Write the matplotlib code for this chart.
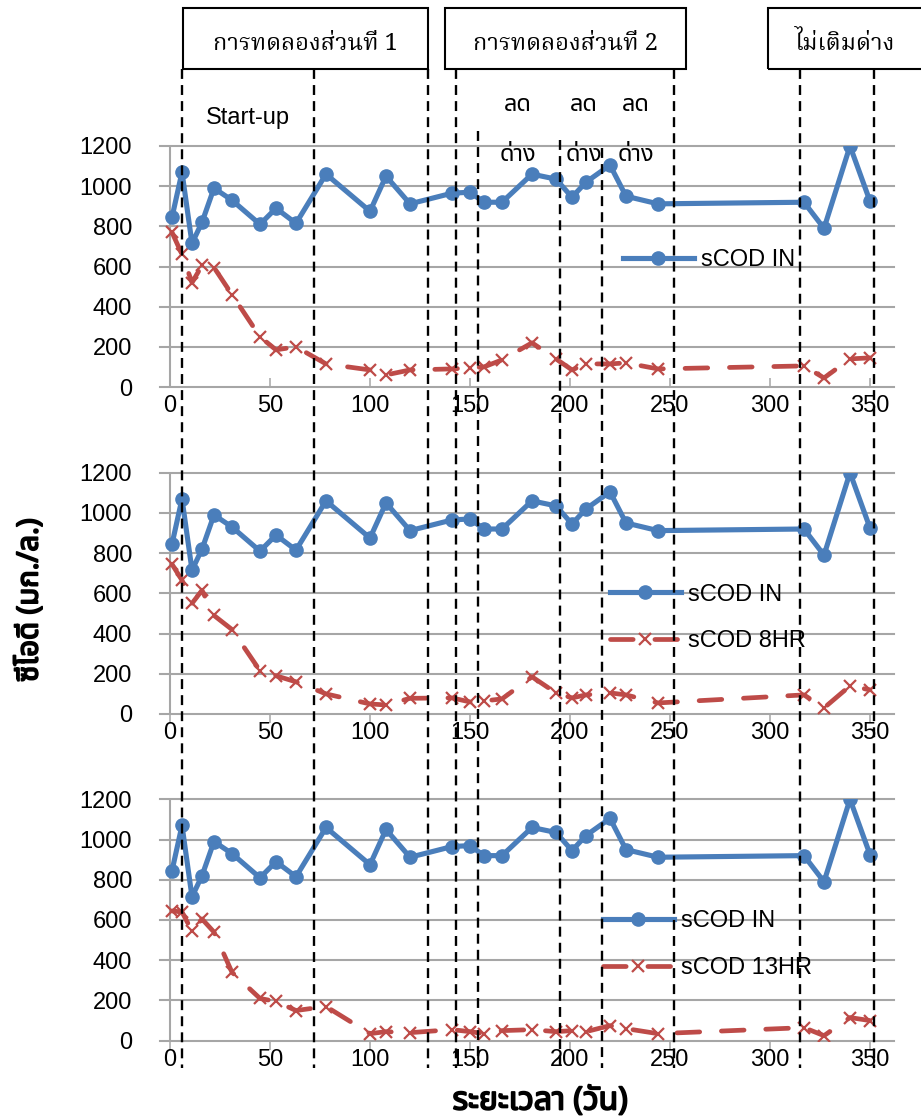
import matplotlib
matplotlib.use('Agg')
from matplotlib import pyplot as plt
from matplotlib import font_manager
from matplotlib import patheffects
from matplotlib.ft2font import FT2Font
from matplotlib.lines import Line2D
from matplotlib.patches import Rectangle
from matplotlib.transforms import blended_transform_factory

# sampling days and soluble COD (mg/L) for influent and the three effluent series
days = [1, 6, 11, 16, 22, 31, 45, 53, 63, 78, 100, 108, 120, 141, 150, 157, 166, 181,
        193, 201, 208, 220, 228, 244, 317, 327, 340, 350]
scod_in = [845, 1070, 715, 820, 990, 930, 810, 890, 815, 1060, 875, 1050, 912, 965, 970,
           920, 920, 1060, 1035, 945, 1020, 1105, 950, 912, 920, 790, 1200, 925]
scod_out_a = [770, 660, 520, 605, 595, 460, 250, 185, 200, 115, 85, 60, 85, 90, 95, 100,
              135, 220, 140, 85, 115, 115, 120, 90, 105, 45, 140, 145]
scod_8hr = [745, 665, 550, 615, 490, 420, 215, 190, 160, 100, 50, 45, 78, 80, 60, 65, 75,
            185, 105, 80, 95, 105, 95, 55, 95, 30, 140, 120]
scod_13hr = [645, 640, 545, 605, 540, 340, 210, 195, 150, 170, 35, 45, 40, 55, 45, 35, 50,
             55, 45, 50, 45, 75, 60, 35, 65, 25, 115, 100]

x_ticks = [0, 50, 100, 150, 200, 250, 300, 350]
y_ticks = [0, 200, 400, 600, 800, 1000, 1200]

# phase boundaries (day) and how far up each marker line reaches (pixels from top)
phase_days = [6, 72, 129, 143, 154, 195, 216, 252, 315, 352]
phase_tops = [69, 69, 69, 69, 131, 140, 148, 69, 69, 69]

phase_boxes = [('การทดลองส่วนที่ 1', 183, 428), ('การทดลองส่วนที่ 2', 445, 686),
               ('ไม่เติมด่าง', 768, 930)]
alkali_cut_x = [518, 584, 636]

BLUE = '#4A7EBB'
RED = '#BE4B48'
GRID = '#A6A6A6'
W, H = 921, 1118


def thai_fonts():
    names = []
    for entry in font_manager.fontManager.ttflist:
        try:
            if 0x0E01 in FT2Font(entry.fname).get_charmap():
                names.append(entry.name)
        except Exception:
            pass
    return sorted(set(names))


def pick(names, keys):
    for k in keys:
        for n in names:
            if k.lower() in n.lower():
                return n
    return names[0] if names else 'DejaVu Sans'


thai = thai_fonts()
thai_sans = pick(thai, ['Noto Sans Thai', 'Loma', 'Garuda', 'Sans Thai', 'Thai'])
thai_serif = pick(thai, ['Noto Serif Thai', 'Norasi', 'Kinnari', 'Serif Thai', 'Thai'])
latin = 'Liberation Sans'
plt.rcParams['font.family'] = [latin, thai_sans, 'DejaVu Sans']

fig = plt.figure(figsize=(W / 100, H / 100), dpi=100)


def fx(px):
    return px / W


def fy(py):
    return 1 - py / H


def panel(top, bottom, out_values, out_label, tick_dir):
    ax = fig.add_axes([fx(160), fy(bottom), fx(894) - fx(160), fy(top) - fy(bottom)])
    ax.plot(days, scod_in, color=BLUE, lw=3.7, marker='o', ms=9.5, label='sCOD IN', zorder=4)
    ax.plot(days, out_values, color=RED, lw=3.4, ls=(0, (4.8, 4.6)), dash_capstyle='round',
            marker='x', ms=8.5, mew=1.6, label=out_label, zorder=3)
    ax.set_xlim(-5, 362)
    ax.set_ylim(0, 1200)
    ax.set_xticks(x_ticks)
    ax.set_yticks(y_ticks)
    for s in ax.spines.values():
        s.set_visible(False)
    for v in y_ticks:
        ax.axhline(v, color=GRID, lw=1.5, zorder=1, clip_on=False)
    ax.plot([0, 0], [0, 1200], color=GRID, lw=1.5, zorder=1)
    ax.tick_params(axis='y', length=0, pad=20, labelsize=17)
    ax.tick_params(axis='x', direction=tick_dir, length=6.5, width=1.1, color=GRID,
                   pad=6 if tick_dir == 'in' else -0.5, labelsize=17)
    return ax


ax1 = panel(146, 387, scod_out_a, '_nolegend_', 'in')
ax2 = panel(472.7, 714, scod_8hr, 'sCOD 8HR', 'out')
ax3 = panel(799.3, 1040.7, scod_13hr, 'sCOD 13HR', 'out')

for ax, left, cy in [(ax1, 623, 260), (ax2, 610, 618), (ax3, 603, 944.5)]:
    ax.legend(loc='center left', bbox_to_anchor=(fx(left), fy(cy)), bbox_transform=fig.transFigure,
              frameon=False, handlelength=3.0, handletextpad=0.3, labelspacing=1.05,
              borderpad=0, borderaxespad=0, numpoints=1, fontsize=17)

# dashed phase markers running through all three panels
trans = blended_transform_factory(ax1.transData, fig.transFigure)
for d, top in zip(phase_days, phase_tops):
    fig.add_artist(Line2D([d, d], [fy(top), fy(1068)], transform=trans, color='black',
                          lw=1.7, ls=(0, (4.2, 2.6)), zorder=10))

for label, x0, x1 in phase_boxes:
    fig.add_artist(Rectangle((fx(x0), fy(69)), fx(x1) - fx(x0), fy(8) - fy(69),
                             transform=fig.transFigure, fill=False, ec='black', lw=1.5))
    cx = (x0 + x1) / 2 if x1 < 921 else 845
    fig.text(fx(cx), fy(44), label, ha='center', va='center', fontsize=17,
             family=[thai_serif, 'DejaVu Serif'])

fig.text(fx(248), fy(118), 'Start-up', ha='center', va='center', fontsize=17)
for x in alkali_cut_x:
    fig.text(fx(x), fy(105), 'ลด', ha='center', va='center', fontsize=17, family=[thai_sans])
    fig.text(fx(x), fy(155), 'ด่าง', ha='center', va='center', fontsize=17, family=[thai_sans])

# the Thai face has no bold cut here, so thicken the axis titles with an outline
bold = [patheffects.withStroke(linewidth=1.3, foreground='black')]
fig.text(fx(30), fy(600), 'ซีโอดี (มก./ล.)', rotation=90, ha='center', va='center',
         fontsize=21, fontweight='bold', family=[thai_sans, 'DejaVu Sans'], path_effects=bold)
fig.text(fx(540), fy(1101), 'ระยะเวลา (วัน)', ha='center', va='center',
         fontsize=23, fontweight='bold', family=[thai_sans, 'DejaVu Sans'], path_effects=bold)

fig.savefig('out.png', dpi=100)
